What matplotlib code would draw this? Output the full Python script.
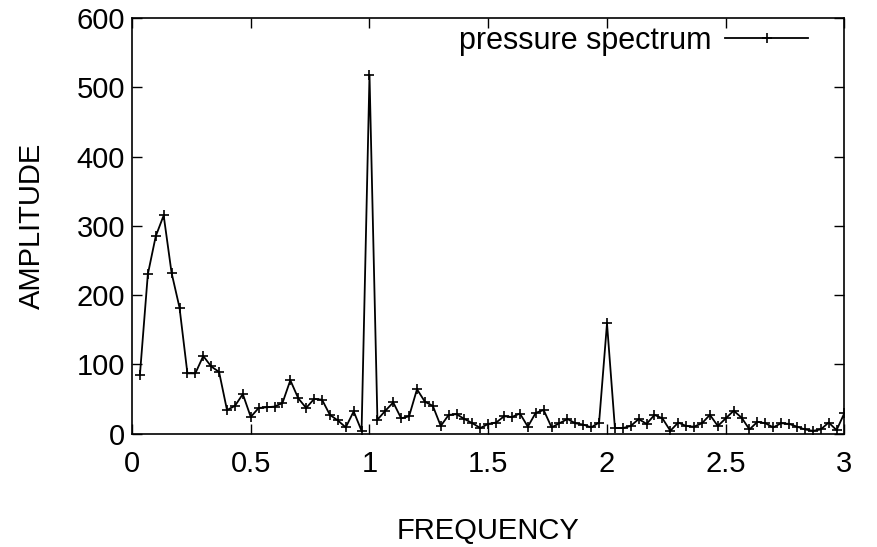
import matplotlib
matplotlib.use("Agg")
import matplotlib.pyplot as plt
import numpy as np

# Frequencies k/30, k = 1..90
frequency = [k / 30 for k in range(1, 91)]
amplitude = [
    85, 230, 285, 315, 232, 182, 87, 87, 112, 97,
    89, 34, 40, 57, 24, 37, 38, 39, 44, 77,
    51, 37, 50, 49, 27, 19, 9, 32, 4, 518,
    20, 33, 45, 22, 25, 64, 46, 40, 11, 27,
    28, 21, 15, 8, 14, 16, 25, 24, 29, 10,
    30, 34, 9, 15, 21, 15, 13, 9, 16, 159,
    8, 8, 11, 21, 14, 27, 22, 4, 16, 11,
    10, 15, 27, 11, 22, 33, 23, 6, 17, 15,
    9, 15, 14, 10, 6, 4, 6, 16, 5, 30,
]
xticks = [0, 0.5, 1, 1.5, 2, 2.5, 3]
xticklabels = ["0", "0.5", "1", "1.5", "2", "2.5", "3"]
yticks = [0, 100, 200, 300, 400, 500, 600]

plt.rcParams['font.family'] = ['Liberation Sans', 'DejaVu Sans']
FS = 21

fig = plt.figure(figsize=(8.77, 5.47), dpi=100)
W, H = 877, 547
left, right, top, bottom = 132, 844.5, 18, 433.6
ax = fig.add_axes([left / W, 1 - bottom / H, (right - left) / W, (bottom - top) / H])

ax.plot(frequency, amplitude, color='black', linewidth=1.3, marker='+',
        markersize=7.5, markeredgewidth=1.2, label='pressure spectrum')

ax.set_xlim(0, 3)
ax.set_ylim(0, 600)
ax.set_xticks(xticks)
ax.set_xticklabels(xticklabels)
ax.set_yticks(yticks)
ax.tick_params(direction='in', length=7, width=1.0, top=True, right=True,
               labelsize=FS, colors='black')
ax.tick_params(axis='x', pad=12)
ax.tick_params(axis='y', pad=5)
for s in ax.spines.values():
    s.set_linewidth(1.2)
    s.set_color('black')

ax.set_xlabel('FREQUENCY', fontsize=FS, labelpad=28)
ax.set_ylabel('AMPLITUDE', fontsize=FS, labelpad=22)

leg = ax.legend(loc='center right', bbox_to_anchor=((808 - left) / (right - left), 1 - (41 - top) / (bottom - top)),
                frameon=False, markerfirst=False, numpoints=1, fontsize=FS + 1,
                handlelength=2.7, handletextpad=0.45, borderpad=0, borderaxespad=0)

fig.savefig('out.png', dpi=100)
